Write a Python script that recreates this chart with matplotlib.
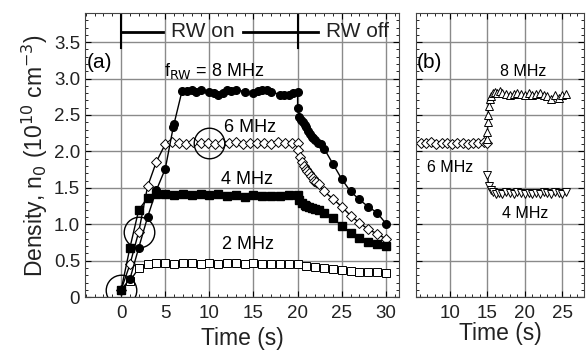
import matplotlib.pyplot as plt
from matplotlib.ticker import MultipleLocator

plt.rcParams['font.family'] = ['Liberation Sans', 'DejaVu Sans']

# ---- panel (a): density vs time for several RW frequencies ----
t8 = [0, 1, 2, 3, 4, 5, 5.9, 6, 6.9, 7.5, 8, 8.5, 9, 10, 10.5, 11, 11.5, 12, 12.5, 13, 14,
      15, 15.5, 16, 16.5, 17, 18, 18.5, 19, 19.5, 20,
      20, 20.2, 20.4, 20.6, 20.8, 21, 21.2, 21.4, 21.6, 21.8, 22, 22.3, 22.6, 23,
      24, 25, 26, 27, 28, 29, 30]
n8 = [0.1, 0.25, 0.68, 1.1, 1.47, 1.76, 2.33, 2.38, 2.83, 2.83, 2.84, 2.82, 2.84, 2.82, 2.8, 2.78,
      2.8, 2.84, 2.83, 2.85, 2.82, 2.8, 2.83, 2.85, 2.84, 2.82, 2.78, 2.77, 2.78, 2.8, 2.82,
      2.59, 2.47, 2.43, 2.4, 2.36, 2.33, 2.28, 2.24, 2.2, 2.18, 2.15, 2.12, 2.1, 2.04,
      1.83, 1.62, 1.45, 1.34, 1.24, 1.16, 1.01]

t6 = [0, 1, 2, 3, 4, 5, 5.8, 6.6, 7.4, 8.2, 9, 9.8, 10.6, 11.4, 12.2, 13, 13.8, 14.6,
      15.4, 16.2, 17, 17.8, 18.6, 19.4, 20,
      20.1, 20.3, 20.5, 20.7, 20.9, 21.1, 21.3, 21.5, 21.7, 21.9, 22.1, 22.4,
      23, 24, 25, 26, 27, 28, 29, 30]
n6 = [0.1, 0.45, 0.9, 1.52, 1.86, 2.1, 2.13, 2.12, 2.1, 2.13, 2.11, 2.12, 2.1, 2.12, 2.11,
      2.13, 2.1, 2.12, 2.11, 2.12, 2.1, 2.13, 2.11, 2.12, 2.12,
      2.02, 1.93, 1.86, 1.8, 1.76, 1.73, 1.7, 1.66, 1.63, 1.6, 1.58, 1.55,
      1.45, 1.35, 1.24, 1.12, 1.02, 0.93, 0.87, 0.8]

t4 = [0, 1, 2, 3, 4, 5, 6, 7, 8, 9, 10, 11, 12, 13, 14, 15, 16, 17, 18, 19, 20,
      20.2, 20.5, 20.8, 21, 21.3, 21.6, 22, 22.4, 23, 24, 25, 26, 27, 28, 29, 30]
n4 = [0.1, 0.68, 1.2, 1.36, 1.41, 1.41, 1.4, 1.41, 1.4, 1.41, 1.4, 1.41, 1.39, 1.4, 1.38,
      1.4, 1.39, 1.39, 1.39, 1.4, 1.4,
      1.33, 1.29, 1.27, 1.25, 1.23, 1.22, 1.21, 1.19, 1.15, 1.08, 0.98, 0.88, 0.81, 0.76, 0.73, 0.7]

t2 = [0, 1, 2, 3, 4, 5, 6, 7, 8, 9, 10, 11, 12, 13, 14, 15, 16, 17, 18, 19, 20,
      21, 22, 23, 24, 25, 26, 27, 28, 29, 30]
n2 = [0.1, 0.22, 0.4, 0.46, 0.47, 0.47, 0.46, 0.47, 0.47, 0.46, 0.47, 0.46, 0.47, 0.47,
      0.46, 0.47, 0.46, 0.46, 0.46, 0.46, 0.46,
      0.43, 0.41, 0.4, 0.38, 0.37, 0.36, 0.35, 0.35, 0.34, 0.33]

circled_t = [0, 2, 10]
circled_n = [0.1, 0.9, 2.12]

# ---- panel (b): frequency switched at t = 15 s ----
tb6 = [6.1, 6.8, 7.5, 8.2, 8.9, 9.6, 10.3, 11, 11.7, 12.4, 13.1, 13.8, 14.5, 15]
nb6 = [2.12, 2.11, 2.13, 2.1, 2.12, 2.11, 2.1, 2.12, 2.11, 2.1, 2.12, 2.11, 2.13, 2.12]

tb8 = [15, 15, 15.1, 15.1, 15.2, 15.3, 15.5, 15.8, 16, 16.3, 16.7, 17, 17.5, 18, 18.5, 19, 19.5,
       20, 20.5, 21, 21.5, 22, 22.5, 23, 23.5, 24, 24.5, 25, 25.5]
nb8 = [2.17, 2.27, 2.4, 2.5, 2.62, 2.72, 2.76, 2.8, 2.82, 2.8, 2.83, 2.8, 2.79, 2.78, 2.79, 2.8,
       2.79, 2.78, 2.8, 2.78, 2.79, 2.8, 2.78, 2.76, 2.72, 2.78, 2.73, 2.77, 2.79]

tb4 = [15, 15.2, 15.5, 15.8, 16.2, 16.6, 17, 17.5, 18, 18.5, 19, 19.5, 20, 20.5, 21, 21.5,
       22, 22.5, 23, 23.5, 24, 24.5, 25, 25.5]
nb4 = [1.67, 1.53, 1.47, 1.44, 1.42, 1.43, 1.41, 1.44, 1.43, 1.42, 1.44, 1.43, 1.42, 1.43,
       1.42, 1.43, 1.42, 1.44, 1.43, 1.42, 1.44, 1.43, 1.42, 1.44]

fig = plt.figure(figsize=(5.86, 3.52), dpi=100)
ax = fig.add_axes([0.145, 0.156, 0.536, 0.807])
bx = fig.add_axes([0.710, 0.156, 0.287, 0.807])


def style_axis(a, lpad):
    a.set_ylim(0, 3.9)
    a.yaxis.set_major_locator(MultipleLocator(0.5))
    a.yaxis.set_minor_locator(MultipleLocator(0.1))
    a.xaxis.set_major_locator(MultipleLocator(5))
    a.xaxis.set_minor_locator(MultipleLocator(1))
    a.grid(True, which='major', color='#8a8a8a', linewidth=1.0)
    a.set_axisbelow(True)
    a.tick_params(which='both', direction='in', top=True, right=True,
                  labelsize=13.5, labelcolor='#222222')
    a.tick_params(axis='x', which='major', pad=6)
    a.tick_params(which='major', length=4)
    a.tick_params(which='minor', length=2.5)
    for s in a.spines.values():
        s.set_color('#444444')
    a.set_xlabel('Time (s)', fontsize=16.5, labelpad=lpad, color='#222222')


style_axis(ax, 3)
ax.set_xlim(-4.1, 31.5)
ax.set_yticks([0, 0.5, 1, 1.5, 2, 2.5, 3, 3.5])
ax.set_yticklabels(['0', '0.5', '1.0', '1.5', '2.0', '2.5', '3.0', '3.5'])
ax.set_xticks([0, 5, 10, 15, 20, 25, 30])
ax.set_ylabel(r'Density, n$_0$ (10$^{10}$ cm$^{-3}$)', fontsize=16.5, labelpad=3,
              color='#222222')

lk = dict(color='black', linewidth=1.0)
ax.plot(t2, n2, marker='s', markersize=5.5, markerfacecolor='white',
        markeredgecolor='black', markeredgewidth=0.7, **lk)
ax.plot(t6, n6, marker='D', markersize=5, markerfacecolor='white',
        markeredgecolor='black', markeredgewidth=0.7, **lk)
ax.plot(t4, n4, marker='s', markersize=5.5, markerfacecolor='black',
        markeredgecolor='black', **lk)
ax.plot(t8, n8, marker='o', markersize=5.5, markerfacecolor='black',
        markeredgecolor='black', **lk)
ax.plot(circled_t, circled_n, linestyle='none', marker='o', markersize=22,
        markerfacecolor='none', markeredgecolor='black', markeredgewidth=1.0)

# RW on / off annotation
ax.plot([0, 0], [3.42, 3.9], color='black', linewidth=1.5)
ax.plot([20, 20], [3.42, 3.9], color='black', linewidth=1.5)
ax.plot([0, 4.8], [3.64, 3.64], color='black', linewidth=2)
ax.plot([13.8, 22.3], [3.64, 3.64], color='black', linewidth=2)
ax.text(9.3, 3.64, 'RW on', fontsize=15, ha='center', va='center', color='#222222')
ax.text(26.8, 3.64, 'RW off', fontsize=15, ha='center', va='center', color='#222222')

ax.text(-3.9, 3.22, '(a)', fontsize=15, ha='left', va='center')
ax.text(10.5, 3.1, r'f$_{\rm RW}$ = 8 MHz', fontsize=13, ha='center', va='center')
ax.text(14.6, 2.33, '6 MHz', fontsize=13, ha='center', va='center')
ax.text(14.3, 1.61, '4 MHz', fontsize=13, ha='center', va='center')
ax.text(14.4, 0.72, '2 MHz', fontsize=13, ha='center', va='center')

style_axis(bx, 0)
bx.set_xlim(5.5, 27.9)
bx.set_xticks([10, 15, 20, 25])
bx.tick_params(labelleft=False)

lb = dict(color='black', linewidth=0.8)
bx.plot(tb6, nb6, marker='D', markersize=5, markerfacecolor='white',
        markeredgecolor='black', markeredgewidth=0.7, **lb)
bx.plot(tb8, nb8, marker='^', markersize=6, markerfacecolor='white',
        markeredgecolor='black', markeredgewidth=0.7, **lb)
bx.plot(tb4, nb4, marker='v', markersize=6, markerfacecolor='white',
        markeredgecolor='black', markeredgewidth=0.7, **lb)

bx.text(5.6, 3.22, '(b)', fontsize=15, ha='left', va='center')
bx.text(19.7, 3.1, '8 MHz', fontsize=11.5, ha='center', va='center')
bx.text(10.0, 1.78, '6 MHz', fontsize=11.5, ha='center', va='center')
bx.text(20.0, 1.15, '4 MHz', fontsize=11.5, ha='center', va='center')

fig.savefig('out.png', dpi=100)
